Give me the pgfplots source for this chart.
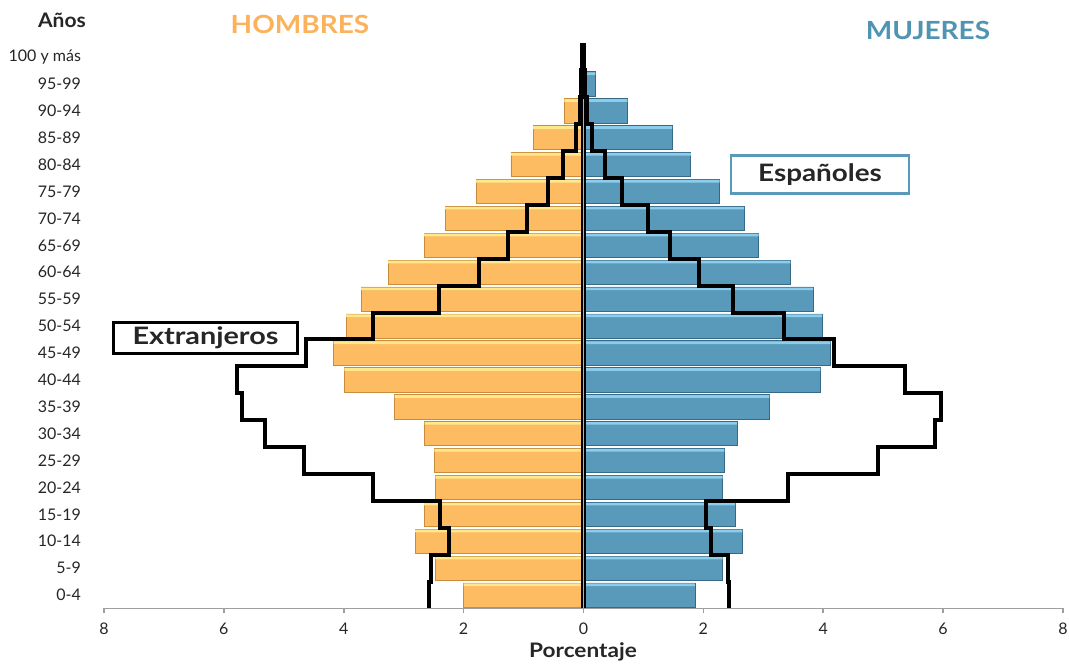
\documentclass[border=0pt]{standalone}
\usepackage{pgfplots}
\pgfplotsset{compat=1.18}
\usepackage{fontspec}
\setmainfont{Lato}

\definecolor{hombre}{RGB}{253,187,98}
\definecolor{hombreluz}{RGB}{255,232,140}
\definecolor{hombreosc}{RGB}{200,140,60}
\definecolor{mujer}{RGB}{89,153,185}
\definecolor{mujerluz}{RGB}{140,205,235}
\definecolor{mujerosc}{RGB}{55,105,135}
\definecolor{titH}{RGB}{251,178,90}
\definecolor{titM}{RGB}{80,148,180}

% edad: 0 = 0-4, ..., 20 = 100 y mas ; hombres en negativo
\pgfplotstableread{
edad hombres mujeres
0  -2.00 1.86
1  -2.47 2.32
2  -2.81 2.65
3  -2.66 2.53
4  -2.47 2.32
5  -2.49 2.35
6  -2.65 2.56
7  -3.15 3.10
8  -3.99 3.95
9  -4.17 4.12
10 -3.96 3.98
11 -3.71 3.83
12 -3.26 3.45
13 -2.66 2.92
14 -2.31 2.68
15 -1.79 2.27
16 -1.21 1.79
17 -0.84 1.48
18 -0.32 0.73
19 -0.05 0.20
20 -0.01 0.02
}\espanoles

\begin{document}
\begin{tikzpicture}
\path[use as bounding box] (0,0) rectangle (534.5pt,331.5pt);
\begin{axis}[
  at={(52pt,27.25pt)}, anchor=south west,
  scale only axis, width=479.5pt, height=282.5pt,
  xmin=-8, xmax=8, ymin=-0.5, ymax=20.5,
  axis lines*=left,
  y axis line style={draw=none},
  x axis line style={draw=gray!75, line width=0.9pt},
  xtick={-8,-6,...,8},
  xticklabels={8,6,4,2,0,2,4,6,8},
  ytick={0,...,20},
  yticklabels={0-4,5-9,10-14,15-19,20-24,25-29,30-34,35-39,40-44,45-49,50-54,55-59,60-64,65-69,70-74,75-79,80-84,85-89,90-94,95-99,100 y más},
  ytick style={draw=none},
  xtick style={draw=gray!75, line width=0.8pt},
  tick align=outside, major tick length=2.5pt,
  tick label style={font=\fontsize{8}{9}\selectfont, text=black!85},
  yticklabel style={xshift=-5.5pt},
  xticklabel style={yshift=-1pt},
  /pgf/number format/assume math mode=true,
  xbar, bar shift=0pt, bar width=0.9,
  clip=false,
]
% barras (Espanoles)
\addplot[fill=hombre, draw=hombreosc, line width=0.3pt] table[x=hombres, y=edad] {\espanoles};
\addplot[fill=mujer, draw=mujerosc, line width=0.3pt] table[x=mujeres, y=edad] {\espanoles};
% brillo superior
\addplot[fill=hombreluz, draw=none, bar width=0.1, bar shift=0.38] table[x=hombres, y=edad] {\espanoles};
\addplot[fill=mujerluz, draw=none, bar width=0.1, bar shift=0.38] table[x=mujeres, y=edad] {\espanoles};

% eje central
\addplot[draw=black, line width=2.6pt, no marks, sharp plot] coordinates {(0,-0.5) (0,20.5)};
\addplot[draw=gray!60, line width=0.7pt, no marks, sharp plot] coordinates {(0,-0.5) (0,20.5)};

% Extranjeros, hombres (escalones)
\addplot[draw=black, line width=2pt, no marks, sharp plot, line join=miter] coordinates {
(-2.57,-0.5) (-2.57,0.5) (-2.55,0.5) (-2.55,1.5) (-2.25,1.5) (-2.25,2.5)
(-2.39,2.5) (-2.39,3.5) (-3.51,3.5) (-3.51,4.5) (-4.66,4.5) (-4.66,5.5)
(-5.32,5.5) (-5.32,6.5) (-5.69,6.5) (-5.69,7.5) (-5.78,7.5) (-5.78,8.5)
(-4.63,8.5) (-4.63,9.5) (-3.51,9.5) (-3.51,10.5) (-2.41,10.5) (-2.41,11.5)
(-1.74,11.5) (-1.74,12.5) (-1.26,12.5) (-1.26,13.5) (-0.94,13.5) (-0.94,14.5)
(-0.59,14.5) (-0.59,15.5) (-0.35,15.5) (-0.35,16.5) (-0.13,16.5) (-0.13,17.5)
(-0.06,17.5) (-0.06,18.5) (-0.04,18.5) (-0.04,19.5) (-0.02,19.5) (-0.02,20.5)
};
% Extranjeros, mujeres (escalones)
\addplot[draw=black, line width=2pt, no marks, sharp plot, line join=miter] coordinates {
(2.43,-0.5) (2.43,0.5) (2.41,0.5) (2.41,1.5) (2.12,1.5) (2.12,2.5)
(2.04,2.5) (2.04,3.5) (3.41,3.5) (3.41,4.5) (4.91,4.5) (4.91,5.5)
(5.86,5.5) (5.86,6.5) (5.97,6.5) (5.97,7.5) (5.36,7.5) (5.36,8.5)
(4.18,8.5) (4.18,9.5) (3.35,9.5) (3.35,10.5) (2.50,10.5) (2.50,11.5)
(1.93,11.5) (1.93,12.5) (1.44,12.5) (1.44,13.5) (1.08,13.5) (1.08,14.5)
(0.65,14.5) (0.65,15.5) (0.36,15.5) (0.36,16.5) (0.15,16.5) (0.15,17.5)
(0.06,17.5) (0.06,18.5) (0.03,18.5) (0.03,19.5) (0.01,19.5) (0.01,20.5)
};
\end{axis}

\begin{scope}[x=0.5pt, y=-0.5pt, yshift=331.5pt]
\node[font=\bfseries\fontsize{10}{11}\selectfont, text=black!85, xscale=1.05] at (62,20) {Años};
\node[font=\bfseries\fontsize{12.5}{14}\selectfont, text=titH, xscale=1.12] at (300,24) {HOMBRES};
\node[font=\bfseries\fontsize{12.5}{14}\selectfont, text=titM, xscale=1.12] at (928,30) {MUJERES};
\node[font=\bfseries\fontsize{10}{11}\selectfont, text=black!85, xscale=1.13] at (583,652) {Porcentaje};
\node[draw=black, line width=1.2pt, fill=white, minimum width=92pt, minimum height=15.5pt] at (205.5,338) {};
\node[font=\bfseries\fontsize{12}{13}\selectfont, text=black!85, xscale=1.2] at (205.5,338) {Extranjeros};
\node[draw=mujer, line width=1.2pt, fill=white, minimum width=89pt, minimum height=19pt] at (820,174.5) {};
\node[font=\bfseries\fontsize{12}{13}\selectfont, text=black!85, xscale=1.16] at (820,174.5) {Españoles};
\end{scope}
\end{tikzpicture}
\end{document}
